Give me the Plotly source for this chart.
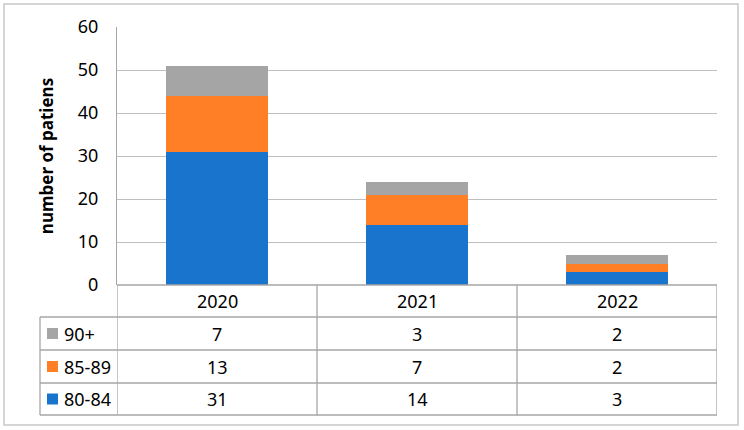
import plotly.graph_objects as go

years = ["2020", "2021", "2022"]
series_names = ["80-84", "85-89", "90+"]
v_80_84 = [31, 14, 3]
v_85_89 = [13, 7, 2]
v_90p = [7, 3, 2]
colors = ["#1874CD", "#FF7F27", "#A5A5A5"]
y_ticks = [0, 10, 20, 30, 40, 50, 60]

W, H = 744, 430
def px(x):
    return x / W
def py(y):
    return 1 - y / H

FONT = "Noto Sans"
FS = 18
grid = "#BFBFBF"
border = "#A6A6A6"

values = [v_80_84, v_85_89, v_90p]
fig = go.Figure()
for name, vals, c in zip(series_names, values, colors):
    fig.add_trace(go.Bar(x=list(range(len(years))), y=vals, name=name,
                         marker=dict(color=c, line=dict(width=0)), width=0.51))

plot_l, plot_r, plot_t, plot_b = 117, 717, 27, 285
rows_y = [317, 350, 383, 415]
left_col = 40

shapes = []
shapes.append(dict(type="rect", xref="paper", yref="paper", x0=px(4), x1=px(738), y0=py(4), y1=py(425),
                   line=dict(color="#C8C8C8", width=1.5), layer="below"))
for yy in rows_y:
    shapes.append(dict(type="line", xref="paper", yref="paper", x0=px(left_col), x1=px(plot_r),
                       y0=py(yy), y1=py(yy), line=dict(color=border, width=1.3)))
shapes.append(dict(type="line", xref="paper", yref="paper", x0=px(plot_l), x1=px(plot_r),
                   y0=py(plot_b), y1=py(plot_b), line=dict(color=border, width=1.3)))
for k in range(len(years) + 1):
    shapes.append(dict(type="line", xref="x", yref="paper", x0=k - 0.5, x1=k - 0.5,
                       y0=py(plot_b), y1=py(rows_y[-1]), line=dict(color=border, width=1.3)))
shapes.append(dict(type="line", xref="paper", yref="paper", x0=px(left_col), x1=px(left_col),
                   y0=py(rows_y[0]), y1=py(rows_y[-1]), line=dict(color=border, width=1.3)))

annotations = []
for k, yr in enumerate(years):
    annotations.append(dict(x=k, y=py((plot_b + rows_y[0]) / 2), xref="x", yref="paper",
                            text=yr, showarrow=False, font=dict(family=FONT, size=FS, color="#000"),
                            xanchor="center", yanchor="middle"))
row_order = [2, 1, 0]
for r, si in enumerate(row_order):
    ymid = (rows_y[r] + rows_y[r + 1]) / 2
    shapes.append(dict(type="rect", xref="paper", yref="paper", x0=px(47), x1=px(58),
                       y0=py(ymid - 5.5), y1=py(ymid + 5.5), fillcolor=colors[si], line=dict(width=0)))
    annotations.append(dict(x=px(62), y=py(ymid), xref="paper", yref="paper", text=series_names[si],
                            showarrow=False, font=dict(family=FONT, size=FS, color="#000"),
                            xanchor="left", yanchor="middle"))
    for k in range(len(years)):
        annotations.append(dict(x=k, y=py(ymid), xref="x", yref="paper", text=str(values[si][k]),
                                showarrow=False, font=dict(family=FONT, size=FS, color="#000"),
                                xanchor="center", yanchor="middle"))

fig.update_layout(
    width=W, height=H, margin=dict(l=0, r=0, t=0, b=0, autoexpand=False),
    paper_bgcolor="white", plot_bgcolor="white",
    barmode="stack", showlegend=False, bargap=0.49,
    xaxis=dict(domain=[px(plot_l), px(plot_r)], range=[-0.5, 2.5], showticklabels=False,
               showgrid=False, zeroline=False, showline=False, fixedrange=True, automargin=False),
    yaxis=dict(domain=[py(plot_b), py(plot_t)], range=[0, 60], tickvals=y_ticks,
               showgrid=True, gridcolor=grid, gridwidth=1.3, zeroline=False,
               showline=True, linecolor=border, linewidth=1.3, automargin=False,
               ticks="outside", ticklen=0, ticklabelstandoff=14,
               tickfont=dict(family=FONT, size=FS, color="#000"),
               title=dict(text="<b>number of patiens</b>", font=dict(family=FONT, size=17, color="#000"),
                          standoff=19)),
    shapes=shapes, annotations=annotations,
)
fig.write_html("out.html")
